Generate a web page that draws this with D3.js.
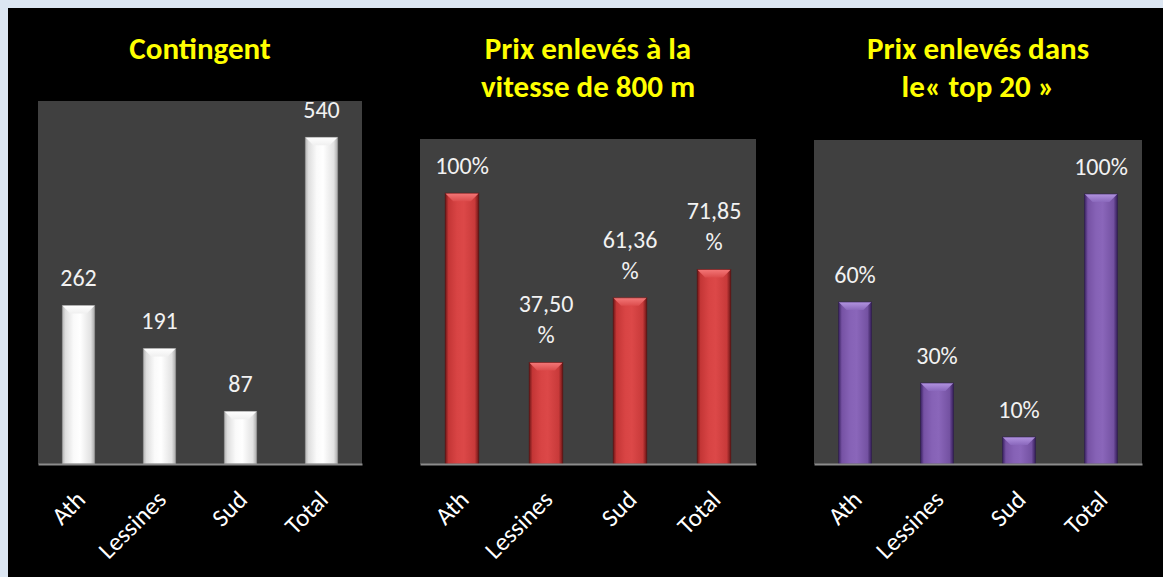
<!DOCTYPE html>
<html><head><meta charset="utf-8">
<script src="https://cdn.jsdelivr.net/npm/d3@7"></script>
<style>
body{margin:0;background:#dce6f2;overflow:hidden}
svg{display:block}
</style>
</head><body>
<svg id="chart" width="1163" height="577"></svg>
<script>
// ---- data ----
const categories = ["Ath", "Lessines", "Sud", "Total"];
const contingentValues = [262, 191, 87, 540];
const contingentLabels = [["262"], ["191"], ["87"], ["540"]];
const vitesseValues = [1.0, 0.375, 0.6136, 0.7185];
const vitesseLabels = [["100%"], ["37,50", "%"], ["61,36", "%"], ["71,85", "%"]];
const top20Values = [0.6, 0.3, 0.1, 1.0];
const top20Labels = [["60%"], ["30%"], ["10%"], ["100%"]];
const panelTitles = [["Contingent"], ["Prix enlevés à la", "vitesse de 800 m"], ["Prix enlevés dans", "le« top 20 »"]];
const yMaxima = [600, 1.2, 1.2];

// ---- layout / style ----
const FONT = "Calibri, Carlito, Lato, sans-serif";
const baseY = 464;
const panels = [
  {x0: 38, x1: 362, top: 101, values: contingentValues, labels: contingentLabels, title: panelTitles[0], max: yMaxima[0], col: "white"},
  {x0: 420, x1: 756, top: 139, values: vitesseValues, labels: vitesseLabels, title: panelTitles[1], max: yMaxima[1], col: "red"},
  {x0: 814, x1: 1142, top: 140, values: top20Values, labels: top20Labels, title: panelTitles[2], max: yMaxima[2], col: "purple"}
];
const palettes = {
  white: {stops: ["#b4b4b4", "#dedede", "#fafafa", "#ffffff", "#e2e2e2", "#a8a8a8"], bevel: ["#ffffff", "#f0f0f0"], edge: "#9a9a9a"},
  red: {stops: ["#6e1616", "#c43636", "#d84444", "#dc4848", "#c83a3a", "#6a1414"], bevel: ["#f47878", "#dc4c4c"], edge: "#5a1010"},
  purple: {stops: ["#3a2262", "#7652a4", "#8662b6", "#8a66ba", "#7452a2", "#361e5a"], bevel: ["#b294e0", "#8a68bc"], edge: "#2e1a4e"}
};

const svg = d3.select("#chart");
svg.append("rect").attr("x", 8).attr("y", 8).attr("width", 1155).attr("height", 569).attr("fill", "#000");

const defs = svg.append("defs");
Object.entries(palettes).forEach(([k, p]) => {
  const g = defs.append("linearGradient").attr("id", "g-" + k).attr("x1", 0).attr("x2", 1).attr("y1", 0).attr("y2", 0);
  [0, 0.1, 0.35, 0.55, 0.88, 1].forEach((o, i) => g.append("stop").attr("offset", o).attr("stop-color", p.stops[i]));
  const b = defs.append("linearGradient").attr("id", "b-" + k).attr("x1", 0).attr("x2", 0).attr("y1", 0).attr("y2", 1);
  b.append("stop").attr("offset", 0).attr("stop-color", p.bevel[0]);
  b.append("stop").attr("offset", 1).attr("stop-color", p.bevel[1]);
});

panels.forEach(p => {
  const g = svg.append("g");
  const cx = (p.x0 + p.x1) / 2;
  // plot area
  g.append("rect").attr("x", p.x0).attr("y", p.top).attr("width", p.x1 - p.x0).attr("height", baseY - p.top).attr("fill", "#404040");

  const x = d3.scaleBand().domain(categories).range([p.x0, p.x1]).paddingInner(0.6).paddingOuter(0.3);
  const y = d3.scaleLinear().domain([0, p.max]).range([baseY, p.top]);
  const pal = palettes[p.col];
  const bw = x.bandwidth();
  const bev = 8;

  const bars = g.selectAll("g.bar").data(categories.map((c, i) => ({c, v: p.values[i], l: p.labels[i]}))).join("g").attr("class", "bar");
  bars.append("rect")
    .attr("x", d => x(d.c)).attr("y", d => y(d.v))
    .attr("width", bw).attr("height", d => baseY - y(d.v))
    .attr("fill", `url(#g-${p.col})`);
  bars.append("path")
    .attr("d", d => {
      const x0 = x(d.c), t = y(d.v);
      return `M${x0},${t}L${x0 + bw},${t}L${x0 + bw - bev},${t + bev}L${x0 + bev},${t + bev}Z`;
    })
    .attr("fill", `url(#b-${p.col})`);
  bars.append("rect")
    .attr("x", d => x(d.c)).attr("y", d => y(d.v))
    .attr("width", bw).attr("height", d => baseY - y(d.v))
    .attr("fill", "none").attr("stroke", pal.edge).attr("stroke-width", 0.8).attr("stroke-opacity", 0.7);

  // value labels
  bars.each(function(d) {
    const n = d.l.length;
    const t = d3.select(this).append("text")
      .attr("text-anchor", "middle").attr("fill", "#f2f2f2")
      .attr("font-family", FONT).attr("font-size", 24);
    d.l.forEach((s, i) => {
      t.append("tspan").attr("x", x(d.c) + bw / 2)
        .attr("y", y(d.v) - 19 - (n - 1 - i) * 31).text(s);
    });
  });

  // axis
  const ax = g.append("g").attr("transform", `translate(0,${baseY})`)
    .call(d3.axisBottom(x).tickSize(0).tickSizeOuter(0));
  ax.select(".domain").attr("stroke", "#8c8c8c").attr("stroke-width", 2);
  ax.selectAll(".tick text")
    .attr("fill", "#ffffff").attr("font-family", FONT).attr("font-size", 25)
    .attr("text-anchor", "end")
    .attr("transform", "translate(2,31) rotate(-45)")
    .attr("x", 0).attr("y", 0).attr("dy", "0.35em");

  // title
  const tt = g.append("text").attr("text-anchor", "middle").attr("fill", "#ffff00")
    .attr("font-family", FONT).attr("font-weight", "bold").attr("font-size", 31);
  p.title.forEach((s, i) => tt.append("tspan").attr("x", cx).attr("y", 59 + i * 38).text(s));
});
</script>
</body></html>
